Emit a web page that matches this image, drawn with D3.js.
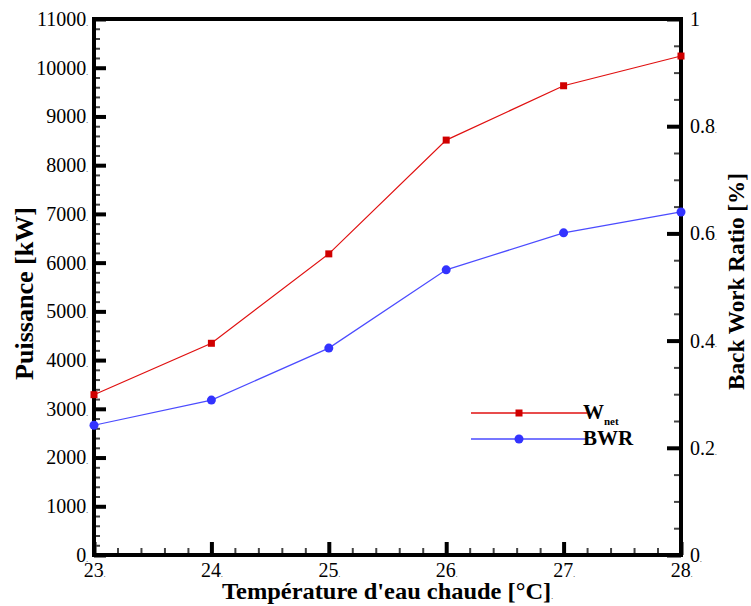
<!DOCTYPE html>
<html>
<head>
<meta charset="utf-8">
<script src="https://cdn.jsdelivr.net/npm/d3@7"></script>
<style>
  html, body { margin: 0; padding: 0; background: #fff; }
  svg { display: block; }
  svg text { font-family: "Liberation Serif", "DejaVu Serif", serif !important; }
</style>
</head>
<body>
<svg id="chart" width="751" height="606"></svg>
<script>
// ---- data ----
const temperatures = [23, 24, 25, 26, 27, 28];
const wnet = [3290, 4345, 6180, 8515, 9630, 10240];
const bwr = [0.242, 0.289, 0.386, 0.532, 0.601, 0.640];
const xTicks = [23, 24, 25, 26, 27, 28];
const yLeftTicks = [0, 1000, 2000, 3000, 4000, 5000, 6000, 7000, 8000, 9000, 10000, 11000];
const yRightTicks = [0, 0.2, 0.4, 0.6, 0.8, 1];
const legendLabels = ["W", "BWR"];
const xTitle = "Température d'eau chaude [°C]";
const yLeftTitle = "Puissance [kW]";
const yRightTitle = "Back Work Ratio [%]";

// ---- layout ----
const L = 94, R = 681, T = 19, B = 555;
const FONT = "Liberation Serif";
const svg = d3.select("#chart");

const x = d3.scaleLinear().domain([23, 28]).range([L, R]);
const yL = d3.scaleLinear().domain([0, 11000]).range([B, T]);
const yR = d3.scaleLinear().domain([0, 1]).range([B, T]);

const minorX = d3.range(23, 28.001, 0.2).filter(v => Math.abs(v - Math.round(v)) > 1e-6);
const minorYL = d3.range(0, 11001, 200).filter(v => v % 1000 !== 0);
const minorYR = d3.range(0, 1.0001, 0.05).filter(v => Math.abs(v * 5 - Math.round(v * 5)) > 1e-6);

function addDot(g) {
  g.selectAll(".tick text").append("tspan").attr("font-size", 7).text(".");
}
function styleAxis(g, major) {
  g.attr("font-family", FONT).attr("font-size", 20);
  g.select(".domain").remove();
  g.selectAll(".tick line").attr("stroke", major ? "#000" : "#444").attr("stroke-width", major ? 4 : 2);
  g.selectAll(".tick text").attr("fill", "#000").style("font-family", FONT);
}

// bottom axis
svg.append("g").attr("transform", `translate(0,${B})`)
  .call(d3.axisBottom(x).tickValues(minorX).tickSize(-7).tickFormat(""))
  .call(g => styleAxis(g, false));
svg.append("g").attr("transform", `translate(0,${B})`)
  .call(d3.axisBottom(x).tickValues(xTicks).tickSize(-13).tickPadding(9).tickFormat(d3.format("d")))
  .call(g => styleAxis(g, true))
  .call(g => g.selectAll(".tick text").attr("dy", "0.66em"))
  .call(addDot);

// left axis
svg.append("g").attr("transform", `translate(${L},0)`)
  .call(d3.axisLeft(yL).tickValues(minorYL).tickSize(-6).tickFormat(""))
  .call(g => styleAxis(g, false));
svg.append("g").attr("transform", `translate(${L},0)`)
  .call(d3.axisLeft(yL).tickValues(yLeftTicks).tickSize(-12).tickPadding(6).tickFormat(d3.format("d")))
  .call(g => styleAxis(g, true))
  .call(addDot);

// right axis
svg.append("g").attr("transform", `translate(${R},0)`)
  .call(d3.axisRight(yR).tickValues(minorYR).tickSize(-7).tickFormat(""))
  .call(g => styleAxis(g, false));
svg.append("g").attr("transform", `translate(${R},0)`)
  .call(d3.axisRight(yR).tickValues(yRightTicks).tickSize(-14).tickPadding(9).tickFormat(d => d === 1 ? "1" : (d === 0 ? "0" : d3.format(".1f")(d))))
  .call(g => styleAxis(g, true))
  .call(g => g.selectAll(".tick").filter(d => d !== 1).select("text").append("tspan").attr("font-size", 7).text("."));

// frame
svg.append("rect").attr("x", L).attr("y", T).attr("width", R - L).attr("height", B - T)
  .attr("fill", "none").attr("stroke", "#000").attr("stroke-width", 4);

// lines
const lineW = d3.line().x((d, i) => x(temperatures[i])).y(d => yL(d));
const lineB = d3.line().x((d, i) => x(temperatures[i])).y(d => yR(d));
svg.append("path").attr("d", lineW(wnet)).attr("fill", "none").attr("stroke", "#e01010").attr("stroke-width", 1.2);
svg.append("path").attr("d", lineB(bwr)).attr("fill", "none").attr("stroke", "#4b4bff").attr("stroke-width", 1.2);

svg.selectAll(".sq").data(wnet).enter().append("rect")
  .attr("x", (d, i) => x(temperatures[i]) - 3.5).attr("y", d => yL(d) - 3.5)
  .attr("width", 7).attr("height", 7).attr("fill", "#d00000");
svg.selectAll(".ci").data(bwr).enter().append("circle")
  .attr("cx", (d, i) => x(temperatures[i])).attr("cy", d => yR(d)).attr("r", 4.5).attr("fill", "#3333ff");

// legend
const lg = svg.append("g").attr("font-family", FONT);
lg.append("line").attr("x1", 471).attr("x2", 587).attr("y1", 413).attr("y2", 413).attr("stroke", "#e01010").attr("stroke-width", 1.3);
lg.append("rect").attr("x", 519 - 3.5).attr("y", 413 - 3.5).attr("width", 7).attr("height", 7).attr("fill", "#d00000");
lg.append("line").attr("x1", 471).attr("x2", 587).attr("y1", 439).attr("y2", 439).attr("stroke", "#7777ff").attr("stroke-width", 1.8);
lg.append("circle").attr("cx", 519).attr("cy", 439).attr("r", 4.5).attr("fill", "#3333ff");
const w = lg.append("text").attr("x", 583).attr("y", 419).attr("font-size", 21).attr("font-weight", "bold").text(legendLabels[0]);
w.append("tspan").attr("font-size", 11).attr("dy", 6).text("net");
lg.append("text").attr("x", 583).attr("y", 445).attr("font-size", 21).attr("font-weight", "bold").text(legendLabels[1]);

// titles
svg.append("text").attr("x", (L + R) / 2).attr("y", 599).attr("text-anchor", "middle")
  .attr("font-size", 24).attr("font-weight", "bold")
  .attr("textLength", 331).attr("lengthAdjust", "spacingAndGlyphs")
  .text(xTitle).append("tspan").attr("font-size", 7).attr("font-weight", "normal").text(".");
svg.append("text").attr("transform", `translate(33,${(207 + 380) / 2}) rotate(-90)`).attr("text-anchor", "middle")
  .attr("font-size", 25).attr("font-weight", "bold")
  .attr("textLength", 173).attr("lengthAdjust", "spacingAndGlyphs")
  .text(yLeftTitle);
svg.append("text").attr("transform", `translate(744,${(173 + 390) / 2}) rotate(-90)`).attr("text-anchor", "middle")
  .attr("font-size", 23).attr("font-weight", "bold")
  .attr("textLength", 217).attr("lengthAdjust", "spacingAndGlyphs")
  .text(yRightTitle);
</script>
</body>
</html>
